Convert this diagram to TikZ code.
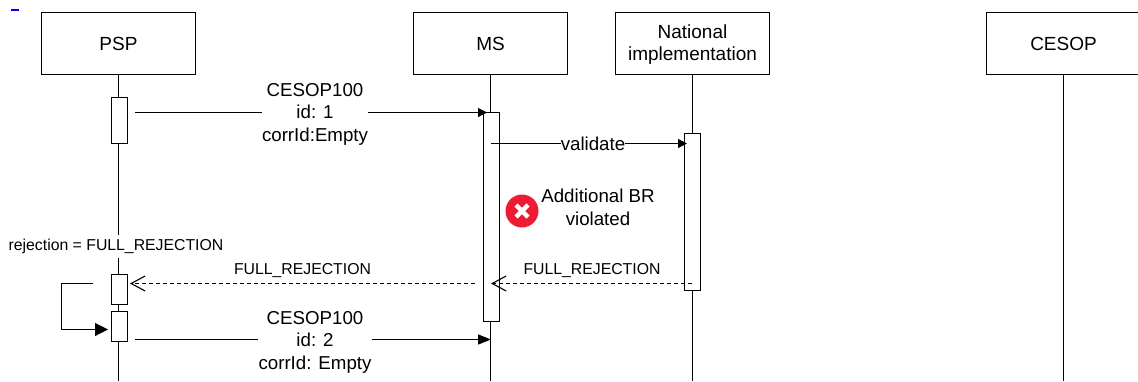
\documentclass[tikz,border=0pt]{standalone}
\usepackage{fontspec}
\setmainfont{Liberation Sans}
\usetikzlibrary{arrows.meta}
\definecolor{errorred}{HTML}{ED1C33}
\tikzset{
	actor/.style={draw, line width=1.1pt, minimum width=154pt, minimum height=62pt, inner sep=0pt, align=center, font=\fontsize{19}{22}\selectfont},
	active/.style={draw, fill=white, line width=1.1pt, minimum width=16pt, inner sep=0pt},
	msglabel/.style={fill=white, inner sep=0pt, align=center, font=\fontsize{18.7}{22.5}\selectfont},
	smalllabel/.style={inner sep=0pt, font=\fontsize{15.8}{18}\selectfont},
	msg/.style={line width=1.1pt, -{Triangle[length=9pt,width=9pt]}},
	reply/.style={line width=1.1pt, dash pattern=on 4pt off 3pt, -{Straight Barb[length=14pt,width=15pt,line width=1.1pt]}}
}
\begin{document}
\begin{tikzpicture}[x=1pt, y=-1pt]
	\clip (0, 0) rectangle (1138, 381);
	\fill[white] (0, 0) rectangle (1138, 381);

	%%%%% HEADS %%%%%
	\fill[blue] (11, 9) rectangle (19, 10.5);
	\node[actor] (psp) at (118.5, 43.5) {PSP};
	\node[actor] (ms) at (490.5, 43.5) {MS};
	\node[actor] (national) at (692.5, 43.5) {};
	\node[align=center, inner sep=0pt, font=\fontsize{19}{22}\selectfont] (nationaltext) at (692.5, 44.5) {National\\implementation};
	\node[actor] (cesop) at (1063.5, 43.5) {CESOP};

	%%%%% LIFELINES %%%%%
	\coordinate (pspend) at (118.5, 381);
	\coordinate (msend) at (490.5, 381);
	\coordinate (nationalend) at (692.5, 381);
	\coordinate (cesopend) at (1063.5, 381);
	\draw[line width=1.1pt] (psp.south) -- (pspend);
	\draw[line width=1.1pt] (ms.south) -- (msend);
	\draw[line width=1.1pt] (national.south) -- (nationalend);
	\draw[line width=1.1pt] (cesop.south) -- (cesopend);

	%%%%% ACTIVATIONS %%%%%
	\node[active, minimum height=46pt] (psprun) at (119.5, 120.5) {};
	\node[active, minimum height=30pt] (pspreply) at (119.5, 289.5) {};
	\node[active, minimum height=30pt] (pspretry) at (119.5, 326.5) {};
	\node[active, minimum height=209pt] (msrun) at (491.5, 217) {};
	\node[active, minimum height=157pt] (nationalrun) at (692.5, 212) {};

	\node[fill=white, inner sep=0pt, smalllabel, minimum height=23pt] (rejlabel) at (116, 246) {rejection = FULL\_REJECTION};

	%%%%% FIRST SUBMISSION %%%%%
	\node[msglabel] (firstlabel) at (315, 114) {CESOP100\\id: 1\\corrId:Empty};
	\coordinate (firststart) at (135, 112.5);
	\coordinate (firstend) at (487, 112.5);
	\draw[line width=1.1pt] (firststart) -- (firststart -| firstlabel.west);
	\draw[msg] (firststart -| firstlabel.east) -- (firstend);

	%%%%% VALIDATE %%%%%
	\node[msglabel] (validatelabel) at (593, 143.5) {validate};
	\coordinate (validatestart) at (490.5, 143.5);
	\coordinate (validateend) at (687, 143.5);
	\draw[line width=1.1pt] (validatestart) -- (validatelabel);
	\draw[msg] (validatelabel) -- (validateend);

	%%%%% ERROR %%%%%
	\node[circle, fill=errorred, minimum size=33pt, inner sep=0pt] (erroricon) at (522, 211) {};
	\draw[white, line width=4.5pt] (516, 205) -- (528, 217);
	\draw[white, line width=4.5pt] (528, 205) -- (516, 217);
	\node[msglabel] (errorlabel) at (598, 207.5) {Additional BR\\violated};

	%%%%% REJECTION %%%%%
	\coordinate (replystart) at (692, 283.5);
	\coordinate (replyms) at (491, 283.5);
	\coordinate (replyout) at (475, 283.5);
	\coordinate (replyend) at (130, 283.5);
	\draw[reply] (replystart) -- (replyms);
	\draw[reply] (replyout) -- (replyend);
	\node[smalllabel] (replylabelb) at (592, 271) {FULL\_REJECTION};
	\node[smalllabel] (replylabela) at (302.5, 271) {FULL\_REJECTION};

	%%%%% LOOP %%%%%
	\coordinate (loopstart) at (93, 283.5);
	\coordinate (loopend) at (108, 329.5);
	\draw[line width=1.1pt, -{Triangle[length=13pt,width=13pt]}] (loopstart) -- (61.5, 283.5) -- (61.5, 329.5) -- (loopend);

	%%%%% SECOND SUBMISSION %%%%%
	\node[msglabel] (secondlabel) at (315, 342) {CESOP100\\id: 2\\corrId: Empty};
	\coordinate (secondstart) at (135, 339.5);
	\coordinate (secondend) at (491, 339.5);
	\draw[line width=1.1pt] (secondstart) -- (secondstart -| secondlabel.west);
	\draw[line width=1.1pt, -{Triangle[length=13pt,width=10pt]}] (secondstart -| secondlabel.east) -- (secondend);
\end{tikzpicture}
\end{document}
